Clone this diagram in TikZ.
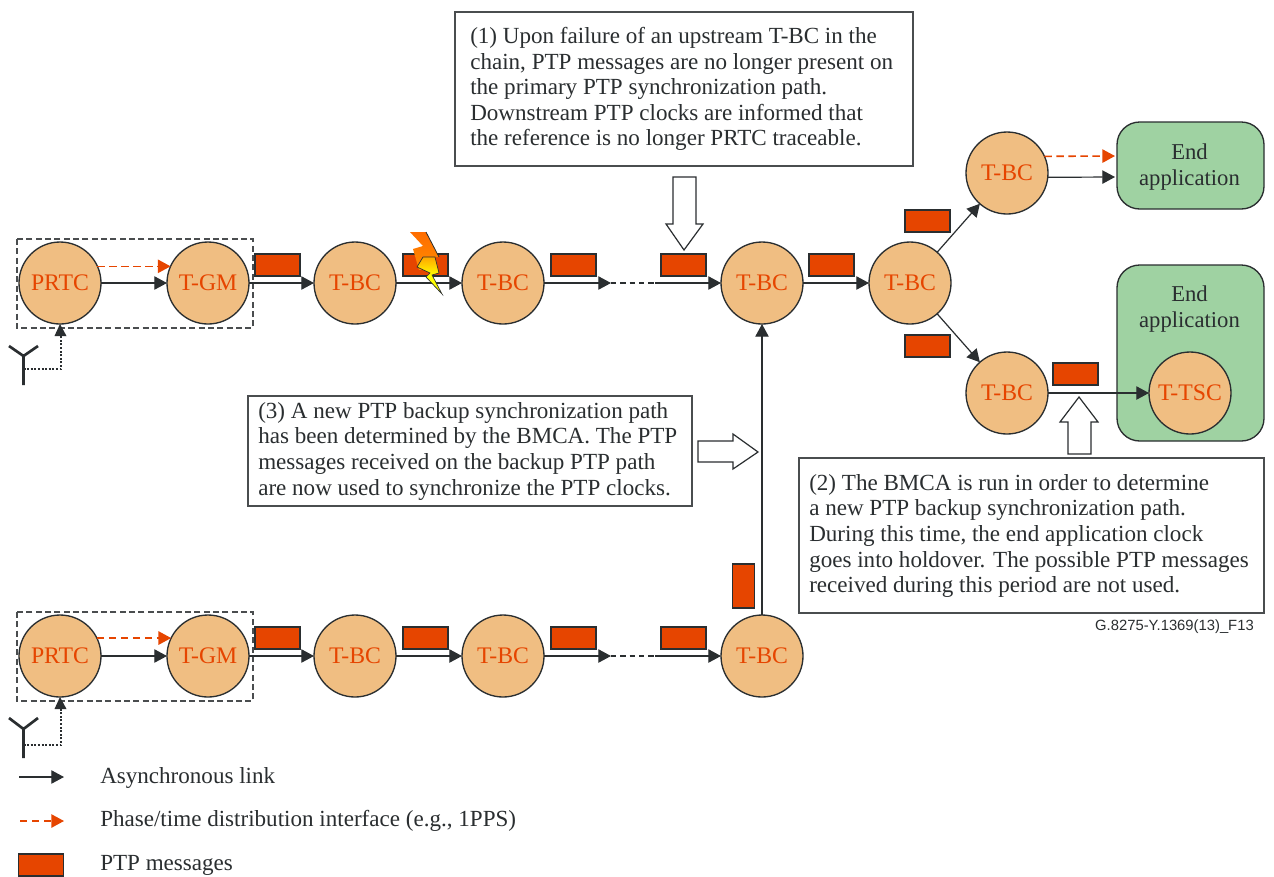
\documentclass[tikz,border=0pt]{standalone}
\usepackage{fontspec}
\setmainfont{Liberation Serif}
\newfontfamily\sansf{Liberation Sans}
\usetikzlibrary{arrows.meta}
\definecolor{ink}{HTML}{2A2E30}
\definecolor{msgc}{HTML}{E64500}
\definecolor{clockc}{HTML}{F0BE82}
\definecolor{appc}{HTML}{9FD2A2}
\tikzset{
  x=0.75pt,y=-0.75pt,
  tip/.style={-{Triangle[length=9.5pt,width=10pt]}},
  clock/.style={circle,draw=ink,line width=1pt,fill=clockc,minimum size=61.5pt,inner sep=0pt,outer sep=0pt,text=msgc,font=\fontsize{17.8}{20}\selectfont},
  msg/.style={rectangle,draw=ink,line width=0.8pt,fill=msgc,minimum width=33.75pt,minimum height=16.5pt,inner sep=0pt,outer sep=0pt},
  vmsg/.style={msg,minimum width=16.5pt,minimum height=33pt},
  link/.style={draw=ink,line width=0.9pt,tip},
  plain/.style={draw=ink,line width=0.9pt},
  phase/.style={draw=msgc,line width=1.2pt,dash pattern=on 5.5pt off 3.5pt,tip},
  group/.style={draw=ink!85,line width=0.8pt,dash pattern=on 4.5pt off 2.5pt},
  note/.style={rectangle,draw=ink!85,line width=1pt,fill=white,inner sep=0pt,outer sep=0pt,anchor=north west},
  notetext/.style={anchor=north west,inner sep=0pt,align=left,text=ink,font=\fontsize{17.3}{19.2}\selectfont},
  app/.style={rectangle,rounded corners=17pt,draw=ink,line width=1pt,fill=appc,inner sep=0pt,outer sep=0pt},
  apptext/.style={align=center,inner sep=0pt,text=ink,font=\fontsize{17}{19.5}\selectfont},
  legend/.style={anchor=west,inner sep=0pt,text=ink,font=\fontsize{17.3}{19}\selectfont},
  block/.style={draw=ink,line width=0.9pt,fill=white,line join=miter},
  aerial/.style={draw=ink,line width=2pt},
  feed/.style={draw=ink,line width=0.9pt,dash pattern=on 1.5pt off 1.2pt},
}
\begin{document}
\begin{tikzpicture}
\useasboundingbox (0,0) rectangle (1274,876);
\fill[white] (0,0) rectangle (1274,876);

% group frames
\draw[group] (17,239) rectangle (253,328);
\draw[group] (17,612) rectangle (253,701);

% green application boxes
\node[app,minimum width=110.25pt,minimum height=65.25pt] (appA) at (1190.5,165.5) {};
\node[apptext] (appAt) at (1189.5,167) {End\\application};
\node[app,minimum width=110.25pt,minimum height=132pt] (appB) at (1190.5,353) {};
\node[apptext] (appBt) at (1189.5,309.5) {End\\application};

% clocks, upper chain
\node[clock] (p1) at (60,283) {PRTC};
\node[clock] (g1) at (208,283) {T-GM};
\node[clock] (b1) at (355,283) {T-BC};
\node[clock] (b2) at (503,283) {T-BC};
\node[clock] (b3) at (762,283) {T-BC};
\node[clock] (b4) at (910,283) {T-BC};
\node[clock] (bt) at (1007,173) {T-BC};
\node[clock] (bl) at (1007,393) {T-BC};
\node[clock] (ts) at (1190,393) {T-TSC};
% clocks, lower chain
\node[clock] (p2) at (60,656) {PRTC};
\node[clock] (g2) at (208,656) {T-GM};
\node[clock] (c1) at (355,656) {T-BC};
\node[clock] (c2) at (503,656) {T-BC};
\node[clock] (c3) at (762,656) {T-BC};

% free ends
\coordinate (u1) at (611,283);
\coordinate (u2) at (655,283);
\coordinate (l1) at (611,656);
\coordinate (l2) at (655,656);
\coordinate (eA1) at (1115,156);
\coordinate (eA2) at (1115,177);

% messages
\foreach \n/\px/\py in {m1/277.5/265,m2/425.5/265,m3/573.5/265,m4/683.5/265,m5/831.5/265,m6/927.5/221,m7/927.5/346,m8/1075.5/374,
  n1/277.5/638,n2/425.5/638,n3/573.5/638,n4/683.5/638}
  \node[msg] (\n) at (\px,\py) {};
\node[vmsg] (n5) at (743.5,586) {};

% links
\draw[link] (p1) -- (g1);
\draw[link] (g1) -- (b1);
\draw[link] (b1) -- (b2);
\draw[link] (b2) -- (u1);
\draw[plain,dash pattern=on 4pt off 3pt] (u1) -- (u2);
\draw[link] (u2) -- (b3);
\draw[link] (b3) -- (b4);
\draw[link] (b4) -- (bt);
\draw[link] (b4) -- (bl);
\draw[link] (bl) -- (ts);
\draw[link] (bt.-6) -- (eA2);
\draw[phase] (p1.24) -- (g1.156);
\draw[phase] (bt.24) -- (eA1);
\draw[link] (p2) -- (g2);
\draw[link] (g2) -- (c1);
\draw[link] (c1) -- (c2);
\draw[link] (c2) -- (l1);
\draw[plain,dash pattern=on 4pt off 3pt] (l1) -- (l2);
\draw[link] (l2) -- (c3);
\draw[link] (c3) -- (b3);
\draw[phase] (p2.26) -- (g2.154);

% lightning
\shade[top color=orange!85!red,bottom color=orange!90!yellow] (410,232) -- (426,232) -- (439,257) -- (427,258) -- (433,268) -- (419,270) -- (413,249) -- (423,246) -- cycle;
\draw[ink,line width=0.6pt] (426,232) -- (439,257);
\draw[ink,line width=0.5pt,top color=orange!70!yellow,bottom color=yellow,middle color=yellow] (417,267) -- (423,257) -- (435,257) -- (439,273) -- (432,275) -- (442,294) -- (426,277) -- (430,273) -- cycle;

% antennas
\coordinate (a1s) at (23.5,369);
\coordinate (a2s) at (23.5,745);
\draw[aerial] (23.5,385) -- (23.5,356) -- (9,346) (23.5,356) -- (38,346);
\draw[aerial] (23.5,758) -- (23.5,729) -- (9,718) (23.5,729) -- (38,718);
\draw[feed] (a1s) -| (61,335);
\draw[feed] (a2s) -| (61,708);
\fill[ink] (p1.south) -- (54.5,336) -- (66.5,336) -- cycle;
\fill[ink] (p2.south) -- (54.5,709) -- (66.5,709) -- cycle;

% notes
\node[note,minimum width=343.5pt,minimum height=115.5pt] (nA) at (455,12) {};
\node[notetext] (nAt) at (470,27) {(1) Upon failure of an upstream T-BC in the\\chain, PTP messages are no longer present on\\the primary PTP synchronization path.\\Downstream PTP clocks are informed that\\the reference is no longer PRTC traceable.};
\node[note,minimum width=333pt,minimum height=82.5pt] (nC) at (248,396) {};
\node[notetext] (nCt) at (258,402) {(3) A new PTP backup synchronization path\\has been determined by the BMCA. The PTP\\messages received on the backup PTP path\\are now used to synchronize the PTP clocks.};
\node[note,minimum width=348.75pt,minimum height=116.25pt] (nB) at (799,458) {};
\node[notetext] (nBt) at (809,474) {(2) The BMCA is run in order to determine\\a new PTP backup synchronization path.\\During this time, the end application clock\\goes into holdover. The possible PTP messages\\received during this period are not used.};

% block arrows
\draw[block] (673,177) -- (696,177) -- (696,224) -- (703,224) -- (684,250) -- (666,224) -- (673,224) -- cycle;
\draw[block] (1068,454) -- (1091,454) -- (1091,422) -- (1098,422) -- (1079,397) -- (1060,422) -- (1068,422) -- cycle;
\draw[block] (698,441) -- (733,441) -- (733,434) -- (758,452) -- (733,469) -- (733,462) -- (698,462) -- cycle;

% footer
\node[anchor=east,inner sep=0pt,text=ink,font=\sansf\fontsize{11.1}{13}\selectfont] (fig) at (1254,627) {G.8275-Y.1369(13)\_F13};

% legend
\coordinate (k1a) at (19,777);
\coordinate (k1b) at (64,777);
\coordinate (k2a) at (20,821);
\coordinate (k2b) at (64,821);
\draw[link] (k1a) -- (k1b);
\draw[phase] (k2a) -- (k2b);
\node[msg] (k3) at (41,865) {};
\node[legend] (k1t) at (100,778) {Asynchronous link};
\node[legend] (k2t) at (100,821) {Phase/time distribution interface (e.g., 1PPS)};
\node[legend] (k3t) at (100,865) {PTP messages};
\end{tikzpicture}
\end{document}
